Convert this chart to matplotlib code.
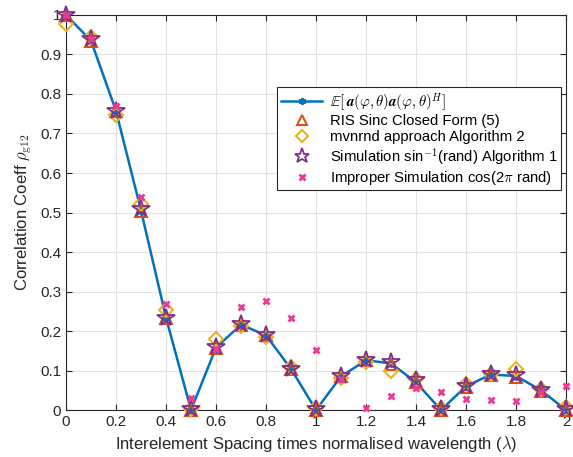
import numpy as np
import matplotlib
matplotlib.use("Agg")
import matplotlib.pyplot as plt

plt.rcParams['font.family'] = ['Liberation Sans', 'DejaVu Sans']
plt.rcParams['mathtext.fontset'] = 'cm'

# spacing d (in wavelengths)
spacing = [0.0, 0.1, 0.2, 0.3, 0.4, 0.5, 0.6, 0.7, 0.8, 0.9, 1.0,
           1.1, 1.2, 1.3, 1.4, 1.5, 1.6, 1.7, 1.8, 1.9, 2.0]

# expectation E[a a^H]
expected = [1.0, 0.935, 0.757, 0.505, 0.234, 0.0, 0.158, 0.216, 0.189, 0.104, 0.0,
            0.085, 0.126, 0.118, 0.070, 0.0, 0.060, 0.090, 0.086, 0.050, 0.0]
# RIS sinc closed form
sinc_closed = [1.0, 0.935, 0.757, 0.505, 0.234, 0.0, 0.156, 0.216, 0.189, 0.104, 0.0,
               0.085, 0.126, 0.116, 0.072, 0.0, 0.058, 0.089, 0.084, 0.049, 0.0]
# mvnrnd approach
mvnrnd = [0.978, 0.945, 0.748, 0.522, 0.252, 0.002, 0.180, 0.212, 0.186, 0.108, 0.004,
          0.082, 0.122, 0.100, 0.078, 0.004, 0.065, 0.090, 0.104, 0.052, 0.008]
# simulation asin(rand)
sim_asin = [1.0, 0.938, 0.758, 0.508, 0.232, 0.002, 0.160, 0.218, 0.190, 0.104, 0.003,
            0.086, 0.127, 0.122, 0.075, 0.002, 0.062, 0.092, 0.088, 0.050, 0.002]
# improper simulation cos(2 pi rand)
improper = [1.0, 0.940, 0.770, 0.538, 0.268, 0.030, 0.154, 0.260, 0.277, 0.234, 0.152,
            0.078, 0.006, 0.036, 0.055, 0.046, 0.028, 0.025, 0.024, 0.045, 0.062]

fig = plt.figure(figsize=(5.73, 4.57), dpi=100)
ax = fig.add_axes([0.1152, 0.1028, 0.8726, 0.8644])

dark = '#262626'
ax.plot(spacing, expected, color='#0072BD', lw=1.8, marker=(6, 2, 0), ms=6, mew=1.3,
        label=r'$\mathbb{E}\left[\,\boldsymbol{a}(\varphi,\theta)\boldsymbol{a}(\varphi,\theta)^H\right]$',
        clip_on=False, zorder=3)
ax.plot(spacing, sinc_closed, ls='none', marker='^', ms=9, mfc='none', mec='#D95319', mew=1.5,
        label='RIS Sinc Closed Form (5)', clip_on=False, zorder=4)
ax.plot(spacing, mvnrnd, ls='none', marker='D', ms=7, mfc='none', mec='#EDB120', mew=1.5,
        label='mvnrnd approach Algorithm 2', clip_on=False, zorder=4)
ax.plot(spacing, sim_asin, ls='none', marker='*', ms=13, mfc='none', mec='#7E2F8E', mew=1.3,
        label=r'Simulation sin$^{-1}$(rand) Algorithm 1', clip_on=False, zorder=5)
ax.plot(spacing, improper, ls='none', marker='x', ms=5, mec='#EE3A96', mew=2,
        label=r'Improper Simulation cos(2$\pi$ rand)', clip_on=False, zorder=6)

ax.set_xlim(0, 2)
ax.set_ylim(0, 1)
ax.set_xticks([0, 0.2, 0.4, 0.6, 0.8, 1, 1.2, 1.4, 1.6, 1.8, 2])
ax.set_xticklabels(['0', '0.2', '0.4', '0.6', '0.8', '1', '1.2', '1.4', '1.6', '1.8', '2'])
ax.set_yticks([0, 0.1, 0.2, 0.3, 0.4, 0.5, 0.6, 0.7, 0.8, 0.9, 1])
ax.set_yticklabels(['0', '0.1', '0.2', '0.3', '0.4', '0.5', '0.6', '0.7', '0.8', '0.9', '1'])
ax.grid(True, color='#e3e3e3', lw=0.8)
ax.set_axisbelow(True)
ax.tick_params(direction='in', top=True, right=True, length=4, labelsize=11,
               colors=dark, width=0.8)
for s in ax.spines.values():
    s.set_color(dark)
    s.set_linewidth(0.8)

ax.set_xlabel(r'Interelement Spacing times normalised wavelength ($\lambda$)', fontsize=12, color=dark)
ax.set_ylabel(r'Correlation Coeff $\rho_{\rm g12}$', fontsize=12, color=dark)

leg = ax.legend(loc='upper left', bbox_to_anchor=(0.422, 0.818), fontsize=10.7,
                frameon=True, fancybox=False, framealpha=1, edgecolor=dark,
                handlelength=2.8, borderpad=0.25, labelspacing=0.12, handletextpad=0.5,
                borderaxespad=0, markerscale=0.85)
leg.get_frame().set_linewidth(0.8)
for t in leg.get_texts():
    t.set_color('black')

fig.savefig('out.png', dpi=100)
